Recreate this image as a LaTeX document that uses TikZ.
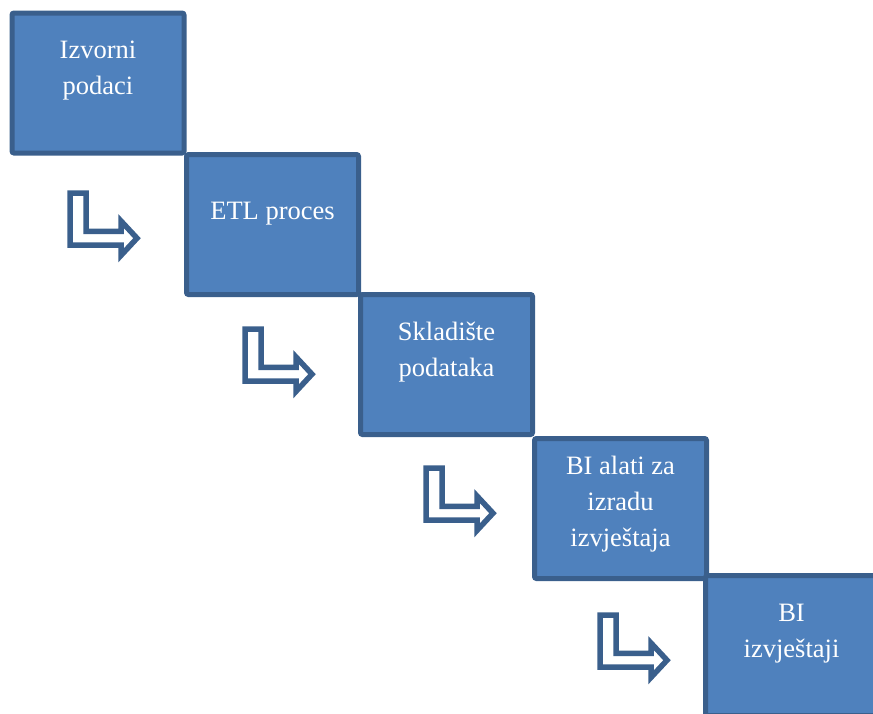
\documentclass[tikz,border=0pt]{standalone}
\usepackage{fontspec}
\setmainfont{Liberation Serif}
\definecolor{boxfill}{HTML}{4F81BD}
\definecolor{boxline}{HTML}{3A5F8C}
\begin{document}
\begin{tikzpicture}[x=1pt,y=-1pt,
  stepbox/.style={draw=boxline, fill=boxfill, line width=5pt, rounded corners=2pt,
    minimum width=172pt, minimum height=140pt, inner sep=0pt},
  boxtext/.style={text=white, align=center, inner sep=0pt,
    font=\fontsize{26.5pt}{36pt}\selectfont},
  larrow/.pic={\draw[draw=boxline, fill=white, line width=5.5pt, line join=miter]
    (3,3) -- (19,3) -- (19,41.3) -- (54,41.3) -- (54,31) -- (70,48.2)
    -- (54,65.4) -- (54,55) -- (3,55) -- cycle;}]
\useasboundingbox (0,0) rectangle (873,713);
\begin{scope}
\clip (0,0) rectangle (873,713);
\node[stepbox] (b1) at (98,83) {};
\node[stepbox] (b2) at (272.5,224.5) {};
\node[stepbox] (b3) at (446.5,364.5) {};
\node[stepbox] (b4) at (620.5,508.5) {};
\node[stepbox] (b5) at (791.5,645.5) {};
\end{scope}
\node[boxtext] (t1) at ([yshift=12pt]b1.center) {Izvorni\\podaci};
\node[boxtext] (t2) at ([yshift=11pt]b2.center) {ETL proces};
\node[boxtext] (t3) at ([yshift=12.5pt]b3.center) {Skladište\\podataka};
\node[boxtext] (t4) at ([yshift=4.5pt]b4.center) {BI alati za\\izradu\\izvještaja};
\node[boxtext] (t5) at ([yshift=11.5pt]b5.center) {BI\\izvještaji};
\pic at (67,190) {larrow};
\pic at (242,326) {larrow};
\pic at (423,465) {larrow};
\pic at (597,612) {larrow};
\end{tikzpicture}
\end{document}
